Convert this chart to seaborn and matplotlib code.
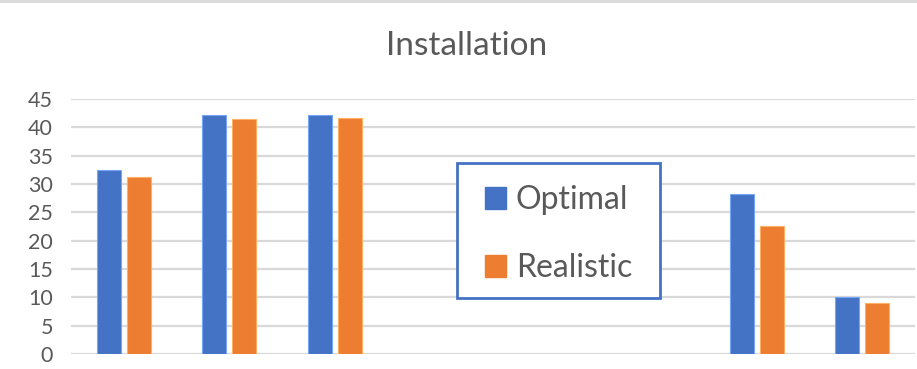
import numpy as np
import pandas as pd
import matplotlib
matplotlib.use("Agg")
import matplotlib.pyplot as plt
import seaborn as sns
from matplotlib.patches import Patch, Rectangle
from matplotlib.lines import Line2D

categories = ["C1", "C2", "C3", "C4", "C5", "C6", "C7", "C8"]
optimal = [32.5, 42.2, 42.2, np.nan, np.nan, np.nan, 28.2, 10.1]
realistic = [31.3, 41.4, 41.6, np.nan, np.nan, np.nan, 22.6, 9.0]
series = ["Optimal", "Realistic"]
yticks = [0, 5, 10, 15, 20, 25, 30, 35, 40, 45]

df = pd.DataFrame({
    "category": categories * 2,
    "value": optimal + realistic,
    "series": [series[0]] * len(categories) + [series[1]] * len(categories),
})

sns.set_theme(style="white")
plt.rcParams["font.family"] = ["Lato", "DejaVu Sans"]

colors = {"Optimal": "#4472C4", "Realistic": "#ED7D31"}
text_gray = "#595959"

fig = plt.figure(figsize=(9.17, 3.69), dpi=100)
ax = fig.add_axes([0.0774, 0.0407, 0.9204, 0.691])

sns.barplot(data=df, x="category", y="value", hue="series", order=categories,
            hue_order=series, palette=colors, width=0.568, gap=0.2,
            saturation=1, ax=ax, legend=False, zorder=3)
for p in ax.patches:
    fc = p.get_facecolor()
    p.set_edgecolor(tuple(min(1, c + 0.2) for c in fc[:3]))
    p.set_linewidth(0.8)

ax.set_ylim(0, 45)
ax.set_xlim(-0.5, len(categories) - 0.5)
ax.set_yticks(yticks)
ax.set_yticklabels([str(t) for t in yticks])
ax.yaxis.grid(True, color="#D9D9D9", linewidth=1.6, zorder=0)
ax.set_axisbelow(True)
ax.tick_params(axis="y", length=0, pad=13, labelsize=15.5, labelcolor=text_gray)
ax.set_xticks([])
ax.set_xlabel("")
ax.set_ylabel("")
for s in ax.spines.values():
    s.set_visible(False)

fig.text(0.509, 0.875, "Installation", ha="center", va="center",
         fontsize=24, color=text_gray)

# Legend box: white panel with a blue outline, entries centred inside it
box = Rectangle((0.4984, 0.1924), 0.2214, 0.3659, transform=fig.transFigure,
                facecolor="white", edgecolor="#4472C4", linewidth=2, zorder=5)
fig.add_artist(box)

handles = [Patch(facecolor=colors[s], edgecolor=colors[s]) for s in series]
leg = fig.legend(handles, series, loc="center", bbox_to_anchor=(0.609, 0.366),
                 frameon=False, fontsize=23, labelcolor=text_gray,
                 handlelength=0.68, handleheight=0.68, handletextpad=0.3,
                 labelspacing=1.2, borderpad=0, borderaxespad=0)
leg.set_zorder(6)

fig.add_artist(Line2D([0, 1], [0.997, 0.997], transform=fig.transFigure,
                      color="#D9D9D9", linewidth=2))

fig.savefig("out.png", dpi=100, facecolor="white")
